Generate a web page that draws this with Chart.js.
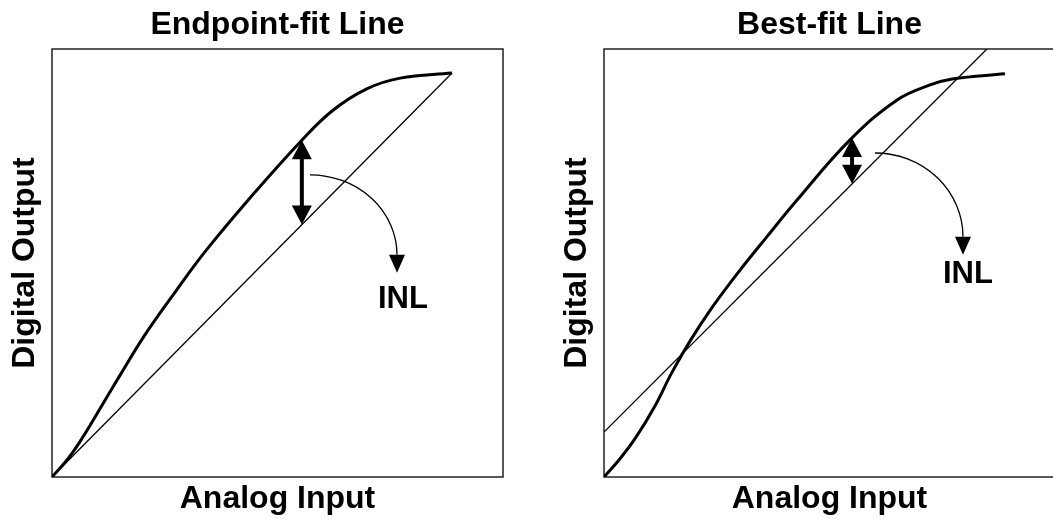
<!DOCTYPE html>
<html>
<head>
<meta charset="utf-8">
<script src="https://cdn.jsdelivr.net/npm/chart.js@4.4.1/dist/chart.umd.min.js"></script>
<style>
  html, body { margin: 0; padding: 0; background: #fff; overflow: hidden; }
  body { width: 1053px; height: 520px; position: relative; }
  .panel { position: absolute; top: 0; height: 520px; }
  #leftBox { left: 0; width: 530px; }
  #rightBox { left: 530px; width: 530px; }
</style>
</head>
<body>
<div class="panel" id="leftBox"><canvas id="endpointChart" width="530" height="520"></canvas></div>
<div class="panel" id="rightBox"><canvas id="bestChart" width="530" height="520"></canvas></div>
<script>
'use strict';

// 데이터 (0~100 정규화 좌표)
const endpointX = [0, 3.5, 6.7, 10.6, 15.1, 20.6, 27.3, 33.9, 43.9, 55.4, 62.3, 69.8, 77.2, 88.7];
const endpointY = [0, 4.2, 9.1, 15.9, 23.8, 33.2, 43.2, 52.6, 65.2, 78.7, 85.7, 90.7, 93.2, 94.4];
const endpointFitX = [0, 88.7];
const endpointFitY = [0, 94.4];

const bestX = [0, 3.5, 7.1, 11.3, 15.1, 19.1, 23.9, 29.7, 36.1, 42.8, 54.5, 65.0, 72.3, 77.2, 88.9];
const bestY = [0, 4.2, 9.3, 16.6, 24.5, 31.8, 39.5, 47.7, 56.1, 64.7, 78.7, 88.1, 91.6, 93.0, 94.2];
const bestFitX = [0, 84.9];
const bestFitY = [10.5, 100];

// INL 표시: [x, 아래 y, 위 y], 곡선 화살표: [시작 x, 시작 y, 끝 x, 끝 y], 라벨: [x, y]
const endpointInl = [55.4, 59.0, 78.7];
const endpointCall = [57.2, 70.6, 76.5, 47.7];
const endpointLabel = [77.8, 41.4];
const bestInl = [55.0, 68.5, 79.2];
const bestCall = [60.1, 75.7, 79.6, 51.9];
const bestLabel = [80.7, 47.4];

const titles = ['Endpoint-fit Line', 'Best-fit Line'];
const xTitle = 'Analog Input';
const yTitle = 'Digital Output';
const inlText = 'INL';

const FONT = '"Liberation Sans", Arial, sans-serif';

function toPoints(xs, ys) {
    return xs.map((x, i) => ({ x: x, y: ys[i] }));
}

// 테두리 상자
const boxPlugin = {
    id: 'box',
    beforeDatasetsDraw(chart) {
        const { ctx, chartArea: a } = chart;
        ctx.save();
        ctx.strokeStyle = '#222';
        ctx.lineWidth = 1.5;
        ctx.strokeRect(a.left, a.top, a.right - a.left, a.bottom - a.top);
        ctx.restore();
    }
};

// 화살표, INL 글자
const inlPlugin = {
    id: 'inl',
    afterDatasetsDraw(chart, args, opts) {
        const { ctx } = chart;
        const xs = chart.scales.x, ys = chart.scales.y;
        const px = v => xs.getPixelForValue(v);
        const py = v => ys.getPixelForValue(v);
        ctx.save();
        ctx.fillStyle = '#000';
        ctx.strokeStyle = '#000';

        // 양방향 화살표
        const ax = px(opts.arrow[0]);
        const yBot = py(opts.arrow[1]);
        const yTop = py(opts.arrow[2]);
        const h = 19, w = 10;
        ctx.lineWidth = 4;
        ctx.beginPath();
        ctx.moveTo(ax, yTop + h - 2);
        ctx.lineTo(ax, yBot - h + 2);
        ctx.stroke();
        ctx.beginPath();
        ctx.moveTo(ax, yTop);
        ctx.lineTo(ax - w, yTop + h);
        ctx.lineTo(ax + w, yTop + h);
        ctx.closePath();
        ctx.fill();
        ctx.beginPath();
        ctx.moveTo(ax, yBot);
        ctx.lineTo(ax - w, yBot - h);
        ctx.lineTo(ax + w, yBot - h);
        ctx.closePath();
        ctx.fill();

        // 곡선 화살표
        const sx = px(opts.call[0]), sy = py(opts.call[1]);
        const tx = px(opts.call[2]), ty = py(opts.call[3]);
        const hh = 18, hw = 8;
        const ex = tx, ey = ty - hh;
        ctx.lineWidth = 1.3;
        ctx.beginPath();
        ctx.ellipse(sx, ey, ex - sx, ey - sy, 0, -Math.PI / 2, 0);
        ctx.stroke();
        ctx.beginPath();
        ctx.moveTo(tx, ty);
        ctx.lineTo(tx - hw, ey);
        ctx.lineTo(tx + hw, ey);
        ctx.closePath();
        ctx.fill();

        // INL
        ctx.font = 'bold 31px ' + FONT;
        ctx.textAlign = 'center';
        ctx.textBaseline = 'middle';
        ctx.fillText(inlText, px(opts.label[0]), py(opts.label[1]));
        ctx.restore();
    }
};

function makeConfig(title, curve, fit, inl, padLeft) {
    return {
        type: 'line',
        data: {
            datasets: [{
                data: curve,
                borderColor: '#000',
                borderWidth: 3,
                pointRadius: 0,
                tension: 0.4,
                fill: false
            }, {
                data: fit,
                borderColor: '#000',
                borderWidth: 1.3,
                pointRadius: 0,
                tension: 0,
                fill: false
            }]
        },
        options: {
            responsive: false,
            animation: false,
            events: [],
            layout: { padding: { left: padLeft, right: padLeft === 0 ? 27 : 5, top: 0, bottom: 0 } },
            plugins: {
                legend: { display: false },
                tooltip: { enabled: false },
                title: {
                    display: true,
                    text: title,
                    fullSize: false,
                    color: '#000',
                    font: { family: FONT, size: 32, weight: 'bold' },
                    padding: { top: 6.1, bottom: 4.5 }
                },
                inl: inl
            },
            scales: {
                x: {
                    type: 'linear',
                    min: 0,
                    max: 100,
                    grid: { display: false, drawTicks: false },
                    border: { display: false },
                    ticks: { display: false },
                    title: {
                        display: true,
                        text: xTitle,
                        color: '#000',
                        font: { family: FONT, size: 32, weight: 'bold' },
                        padding: { top: 3.2, bottom: 1.4 }
                    }
                },
                y: {
                    type: 'linear',
                    min: 0,
                    max: 100,
                    grid: { display: false, drawTicks: false },
                    border: { display: false },
                    ticks: { display: false },
                    title: {
                        display: true,
                        text: yTitle,
                        color: '#000',
                        font: { family: FONT, size: 32, weight: 'bold' },
                        padding: { top: 6.4, bottom: 7.2 }
                    }
                }
            }
        },
        plugins: [boxPlugin, inlPlugin]
    };
}

new Chart(
    document.getElementById('endpointChart'),
    makeConfig(titles[0],
        toPoints(endpointX, endpointY),
        toPoints(endpointFitX, endpointFitY),
        { arrow: endpointInl, call: endpointCall, label: endpointLabel },
        0)
);

new Chart(
    document.getElementById('bestChart'),
    makeConfig(titles[1],
        toPoints(bestX, bestY),
        toPoints(bestFitX, bestFitY),
        { arrow: bestInl, call: bestCall, label: bestLabel },
        22)
);
</script>
</body>
</html>
